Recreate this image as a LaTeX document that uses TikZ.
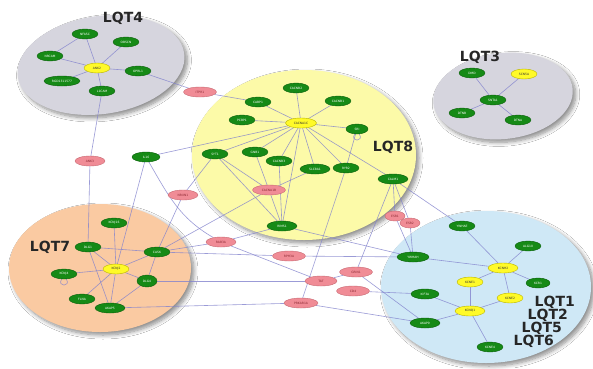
\documentclass[tikz,border=0pt]{standalone}
\usepackage{fontspec}
\setsansfont{DejaVu Sans}
\usetikzlibrary{shapes.geometric,shadows.blur}

\definecolor{genegreen}{RGB}{22,138,22}
\definecolor{genedark}{RGB}{10,95,10}
\definecolor{hubyellow}{RGB}{255,250,40}
\definecolor{hubdark}{RGB}{185,180,0}
\definecolor{linkpink}{RGB}{240,140,150}
\definecolor{pinkdark}{RGB}{200,105,115}
\definecolor{pinktext}{RGB}{140,40,50}
\definecolor{greyblob}{RGB}{214,213,222}
\definecolor{yellowblob}{RGB}{252,250,168}
\definecolor{orangeblob}{RGB}{250,202,162}
\definecolor{blueblob}{RGB}{207,232,246}
\definecolor{linkblue}{RGB}{130,130,205}

\pgfdeclarelayer{blobs}
\pgfdeclarelayer{links}
\pgfsetlayers{blobs,links,main}

\begin{document}
\begin{tikzpicture}[x=1pt, y=-1pt,
    gene/.style={draw=genedark, fill=genegreen, ellipse, inner sep=0pt,
      minimum width=26pt, minimum height=10pt, text=white,
      font=\fontsize{3}{3}\selectfont\sffamily},
    hub/.style={gene, draw=hubdark, fill=hubyellow, text=black!80},
    other/.style={gene, draw=pinkdark, fill=linkpink, text=pinktext},
    blob/.style={ellipse, inner sep=0pt, blur shadow={shadow xshift=3pt,
      shadow yshift=-3pt, shadow blur steps=8, shadow blur radius=4pt, shadow opacity=45}},
    lqt/.style={font=\fontsize{14}{14}\selectfont\sffamily\bfseries, text=black!85, inner sep=0pt},
    link/.style={draw=linkblue, line width=0.6pt, opacity=0.8}
  ]
  \useasboundingbox (0,0) rectangle (593,368);

  % disease groups
  \begin{pgfonlayer}{blobs}
    \fill[white] (0,0) rectangle (593,368);
    \node[blob, fill=greyblob, minimum width=168pt, minimum height=98pt, rotate=8] (grp4) at (101,65) {};
    \node[blob, fill=greyblob, minimum width=140pt, minimum height=86pt, rotate=6] (grp3) at (503,96) {};
    \node[blob, fill=yellowblob, minimum width=224pt, minimum height=170pt] (grp8) at (304,155) {};
    \node[blob, fill=orangeblob, minimum width=182pt, minimum height=128pt] (grp7) at (100,268) {};
    \node[blob, fill=blueblob, minimum width=210pt, minimum height=152pt] (grp1) at (486,287) {};
  \end{pgfonlayer}

  \node[lqt] (lab4) at (123,18) {LQT4};
  \node[lqt] (lab3) at (480,57) {LQT3};
  \node[lqt] (lab8) at (393,147) {LQT8};
  \node[lqt] (lab7) at (50,247) {LQT7};
  \node[lqt, anchor=east] (lab1) at (575,302) {LQT1};
  \node[lqt, anchor=east] (lab2) at (568,315) {LQT2};
  \node[lqt, anchor=east] (lab5) at (562,328) {LQT5};
  \node[lqt, anchor=east] (lab6) at (554,341) {LQT6};

  % LQT4
  \node[hub] (ank2) at (97,68) {ANK2};
  \node[gene] (nfasc) at (85,34) {NFASC};
  \node[gene] (obscn) at (126,42) {OBSCN};
  \node[gene] (nrcam) at (50,56) {NRCAM};
  \node[gene] (oprl1) at (138,71) {OPRL1};
  \node[gene, minimum width=36pt] (rgd) at (62,81) {RGD1311577};
  \node[gene] (l1cam) at (102,91) {L1CAM};
  \node[other, minimum width=33pt] (itpr1) at (200,92) {ITPR1};
  \node[other, minimum width=30pt] (ank3) at (90,161) {ANK3};

  % LQT3
  \node[gene] (dmd) at (472,73) {DMD};
  \node[hub] (scn5a) at (524,74) {SCN5A};
  \node[gene] (snta1) at (493,100) {SNTA1};
  \node[gene] (dtnb) at (462,113) {DTNB};
  \node[gene] (dtna) at (518,120) {DTNA};

  % LQT8
  \node[hub, minimum width=31pt] (cacna1c) at (301,123) {CACNA1C};
  \node[gene] (cacnb2) at (296,88) {CACNB2};
  \node[gene] (cabp1) at (258,102) {CABP1};
  \node[gene] (cacnb1) at (338,101) {CACNB1};
  \node[gene] (pcbp1) at (242,120) {PCBP1};
  \node[gene, minimum width=22pt] (sri) at (357,129) {SRI};
  \node[gene] (syt1) at (215,154) {SYT1};
  \node[gene] (gnb1) at (255,152) {GNB1};
  \node[gene] (cacnb3) at (279,161) {CACNB3};
  \node[gene, minimum width=30pt] (slc8a1) at (315,169) {SLC8A1};
  \node[gene] (ryr2) at (346,168) {RYR2};
  \node[gene, minimum width=30pt] (calm1) at (393,179) {CALM1};
  \node[other, minimum width=33pt] (cacna1b) at (269,190) {CACNA1B};
  \node[gene, minimum width=30pt] (rims1) at (282,226) {RIMS1};
  \node[gene, minimum width=28pt] (il16) at (146,157) {IL16};

  % linking proteins
  \node[other, minimum width=30pt] (nrxn1) at (183,195) {NRXN1};
  \node[other, minimum width=30pt] (rab3a) at (221,242) {RAB3A};
  \node[other, minimum width=33pt] (rph3a) at (289,256) {RPH3A};
  \node[other, minimum width=32pt] (tat) at (321,281) {TAT};
  \node[other, minimum width=33pt] (grin1) at (356,272) {GRIN1};
  \node[other, minimum width=33pt] (cd4) at (353,291) {CD4};
  \node[other, minimum width=34pt] (prkar1a) at (301,303) {PRKAR1A};
  \node[other, minimum width=20pt] (esr1) at (395,216) {ESR1};
  \node[other, minimum width=20pt] (esr2) at (410,223) {ESR2};

  % LQT1 LQT2 LQT5 LQT6
  \node[gene] (ywhae) at (462,226) {YWHAE};
  \node[gene, minimum width=32pt] (ywhah) at (413,257) {YWHAH};
  \node[gene] (alg10) at (528,246) {ALG10};
  \node[hub, minimum width=30pt] (kcnh2) at (503,268) {KCNH2};
  \node[hub] (kcne1) at (470,282) {KCNE1};
  \node[gene, minimum width=24pt] (kcr1) at (538,283) {KCR1};
  \node[gene, minimum width=28pt] (kif3a) at (425,294) {KIF3A};
  \node[hub] (kcne2) at (510,298) {KCNE2};
  \node[hub, minimum width=30pt] (kcnq1) at (470,311) {KCNQ1};
  \node[gene, minimum width=30pt] (akap9) at (425,323) {AKAP9};
  \node[gene] (kcne4) at (490,347) {KCNE4};

  % LQT7
  \node[gene] (kcnj16) at (114,223) {KCNJ16};
  \node[gene] (dlg1) at (88,247) {DLG1};
  \node[gene] (cask) at (157,252) {CASK};
  \node[hub] (kcnj2) at (116,269) {KCNJ2};
  \node[gene] (kcnj4) at (64,274) {KCNJ4};
  \node[gene, minimum width=20pt, minimum height=12pt] (dlg4) at (147,281) {DLG4};
  \node[gene] (flna) at (82,299) {FLNA};
  \node[gene, minimum width=30pt] (akap5) at (110,308) {AKAP5};

  \begin{pgfonlayer}{links}
    \foreach \n in {nfasc,obscn,nrcam,oprl1,rgd,l1cam}
      \draw[link] (ank2) -- (\n);
    \draw[link] (nfasc) -- (nrcam);
    \draw[link] (oprl1) -- (itpr1);
    \draw[link] (itpr1) -- (cabp1);
    \draw[link] (l1cam) -- (ank3);
    \draw[link] (ank3) -- (dlg1);

    \foreach \n in {dmd,scn5a,dtnb,dtna}
      \draw[link] (snta1) -- (\n);

    \foreach \n in {cacnb2,cacnb1,cabp1,pcbp1,sri,syt1,gnb1,cacnb3,slc8a1,ryr2,calm1,rims1,il16}
      \draw[link] (cacna1c) -- (\n);
    \draw[link] (sri.-115) .. controls +(-5,8) and +(5,8) .. (sri.-65);
    \draw[link] (sri) -- (ryr2);
    \draw[link] (ryr2) -- (prkar1a);
    \foreach \n in {syt1,gnb1,slc8a1,rims1,cask}
      \draw[link] (cacna1b) -- (\n);
    \draw[link] (syt1) -- (rims1);
    \draw[link] (cacnb3) -- (rims1);
    \foreach \n in {esr1,esr2,ywhae,grin1}
      \draw[link] (calm1) -- (\n);
    \draw[link] (esr1) -- (ywhah);
    \draw[link] (esr2) -- (ywhah);
    \draw[link] (rims1) -- (rab3a);
    \draw[link] (rims1) -- (ywhah);
    \draw[link] (nrxn1) -- (cask);
    \draw[link] (nrxn1) -- (syt1);
    \draw[link] (il16) -- (kcnj2);
    \draw[link] (il16) to[out=-60, in=150] (rab3a);
    \draw[link] (cask) -- (rab3a);
    \draw[link] (cask) -- (rph3a);
    \draw[link] (rph3a) -- (ywhah);
    \draw[link] (rab3a) -- (tat);
    \draw[link] (tat) -- (grin1);
    \draw[link] (grin1) -- (akap9);
    \draw[link] (cd4) -- (kif3a);
    \draw[link] (prkar1a) -- (akap9);

    \foreach \n in {ywhae,ywhah,alg10,kcr1,kcne1,kcne2}
      \draw[link] (kcnh2) -- (\n);
    \foreach \n in {kcne1,kcne2,kif3a,akap9,kcne4}
      \draw[link] (kcnq1) -- (\n);

    \foreach \n in {dlg1,kcnj16,cask,dlg4,kcnj4,flna,akap5}
      \draw[link] (kcnj2) -- (\n);
    \draw[link] (kcnj4.-115) .. controls +(-5,8) and +(5,8) .. (kcnj4.-65);
    \draw[link] (dlg1) -- (cask);
    \draw[link] (dlg1) -- (akap5);
    \draw[link] (cask) -- (dlg4);
    \draw[link] (dlg4) -- (akap5);
    \draw[link] (dlg4) -- (tat);
    \draw[link] (akap5) -- (prkar1a);
  \end{pgfonlayer}
\end{tikzpicture}
\end{document}
